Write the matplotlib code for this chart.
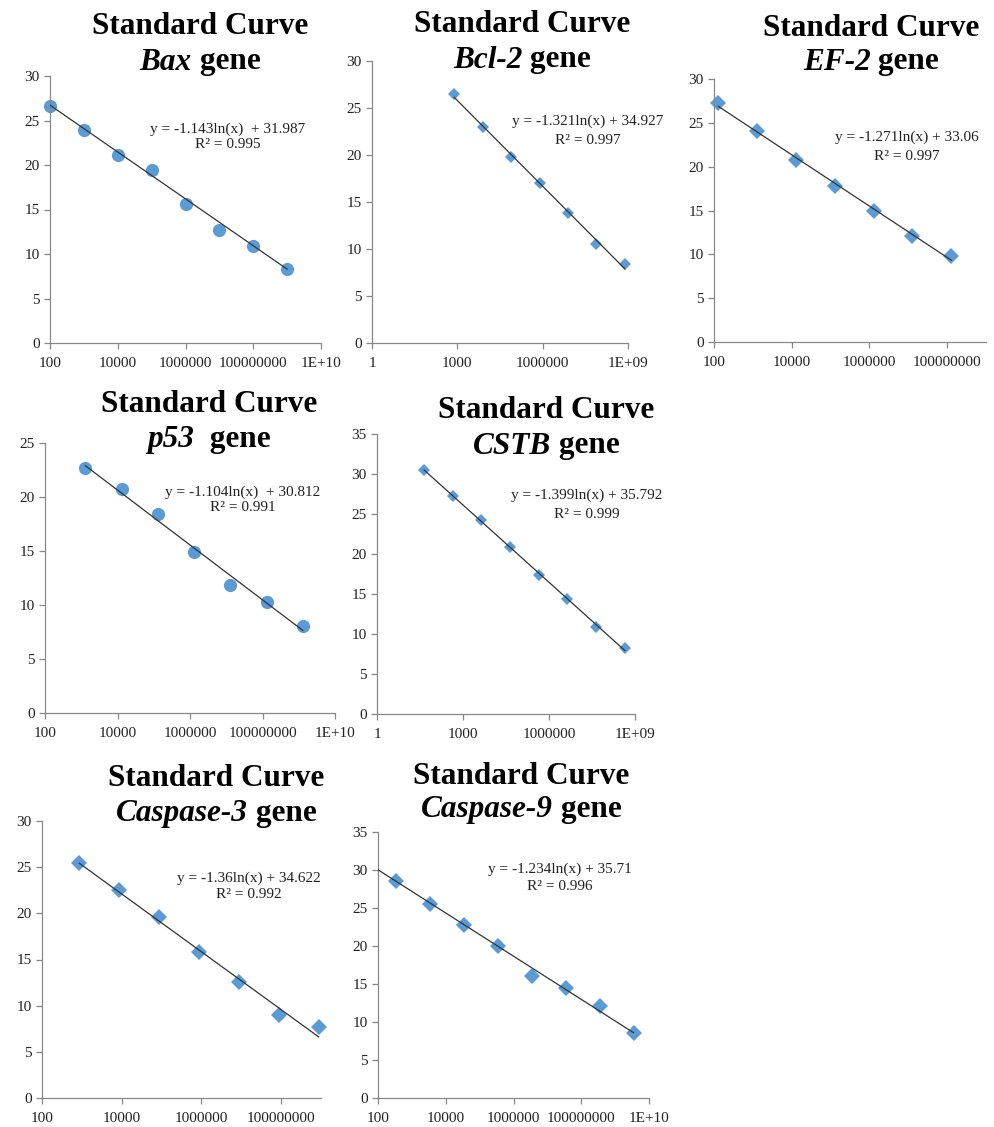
import numpy as np
import matplotlib
matplotlib.use("Agg")
import matplotlib.pyplot as plt

plt.rcParams['font.family'] = ['Liberation Serif', 'DejaVu Serif']

# ---------------- data ----------------
genes = ["Bax", "Bcl-2", "EF-2", "p53", "CSTB", "Caspase-3", "Caspase-9"]

bax_x = [1e2, 1e3, 1e4, 1e5, 1e6, 1e7, 1e8, 1e9]
bax_y = [26.6, 23.95, 21.15, 19.45, 15.65, 12.65, 10.95, 8.35]

bcl2_x = [7.8e2, 7.8e3, 7.8e4, 7.8e5, 7.8e6, 7.8e7, 7.8e8]
bcl2_y = [26.5, 22.95, 19.77, 17.05, 13.88, 10.5, 8.45]

ef2_x = [1.28e2, 1.28e3, 1.28e4, 1.28e5, 1.28e6, 1.28e7, 1.28e8]
ef2_y = [27.3, 24.05, 20.75, 17.8, 15.0, 12.05, 9.85]

p53_x = [1.3e3, 1.3e4, 1.3e5, 1.3e6, 1.3e7, 1.3e8, 1.3e9]
p53_y = [22.65, 20.7, 18.4, 14.95, 11.85, 10.3, 8.05]

cstb_x = [4.4e1, 4.4e2, 4.4e3, 4.4e4, 4.4e5, 4.4e6, 4.4e7, 4.4e8]
cstb_y = [30.5, 27.25, 24.25, 20.85, 17.4, 14.35, 10.9, 8.25]

casp3_x = [8.7e2, 8.7e3, 8.7e4, 8.7e5, 8.7e6, 8.7e7, 8.7e8]
casp3_y = [25.45, 22.5, 19.55, 15.8, 12.55, 8.95, 7.7]

casp9_x = [3.5e2, 3.5e3, 3.5e4, 3.5e5, 3.5e6, 3.5e7, 3.5e8, 3.5e9]
casp9_y = [28.6, 25.55, 22.8, 20.0, 16.1, 14.45, 12.15, 8.6]

slopes = [-1.143, -1.321, -1.271, -1.104, -1.399, -1.36, -1.234]
intercepts = [31.987, 34.927, 33.06, 30.812, 35.792, 34.622, 35.71]
r2 = [0.995, 0.997, 0.997, 0.991, 0.999, 0.992, 0.996]
eq_texts = ["y = -1.143ln(x)  + 31.987", "y = -1.321ln(x) + 34.927",
            "y = -1.271ln(x) + 33.06", "y = -1.104ln(x)  + 30.812",
            "y = -1.399ln(x) + 35.792", "y = -1.36ln(x) + 34.622",
            "y = -1.234ln(x) + 35.71"]
r2_texts = ["R² = 0.995", "R² = 0.997", "R² = 0.997", "R² = 0.991",
            "R² = 0.999", "R² = 0.992", "R² = 0.996"]
gene_suffix = [" gene", " gene", " gene", "  gene", " gene", " gene", " gene"]

trend_start = [None, None, None, None, None, None, 1e2]

ymax = [30, 30, 30, 25, 35, 30, 35]
xlims = [(1e2, 1e10), (1, 1e9), (1e2, 1e9), (1e2, 1e10), (1, 1e9), (1e2, 1e9), (1e2, 1e10)]
xticks = [[1e2, 1e4, 1e6, 1e8, 1e10], [1, 1e3, 1e6, 1e9], [1e2, 1e4, 1e6, 1e8],
          [1e2, 1e4, 1e6, 1e8, 1e10], [1, 1e3, 1e6, 1e9], [1e2, 1e4, 1e6, 1e8],
          [1e2, 1e4, 1e6, 1e8, 1e10]]
xticklabels = [["100", "10000", "1000000", "100000000", "1E+10"],
               ["1", "1000", "1000000", "1E+09"],
               ["100", "10000", "1000000", "100000000"],
               ["100", "10000", "1000000", "100000000", "1E+10"],
               ["1", "1000", "1000000", "1E+09"],
               ["100", "10000", "1000000", "100000000"],
               ["100", "10000", "1000000", "100000000", "1E+10"]]

xs = [bax_x, bcl2_x, ef2_x, p53_x, cstb_x, casp3_x, casp9_x]
ys = [bax_y, bcl2_y, ef2_y, p53_y, cstb_y, casp3_y, casp9_y]

# ---------------- layout (pixels) ----------------
W, H = 994, 1127
boxes = [(50, 76, 321, 343), (372, 61, 628, 343), (714, 79, 986, 342),
         (45, 443, 335, 713), (377, 434, 635, 714), (42, 821, 321, 1098),
         (378, 832, 649, 1098)]
title_pos = [(200, 26, 62), (522, 24, 60), (871, 28, 62), (209, 404, 440),
             (546, 410, 446), (216, 779, 813), (521, 776, 810)]
eq_pos = [(228, 129, 145), (588, 121, 140), (907, 137, 156), (243, 492, 508),
          (587, 495, 514), (249, 878, 894), (560, 869, 887)]
markers = ['o', 'D', 'D', 'o', 'D', 'D', 'D']
msizes = [9.5, 6.5, 8, 9.5, 6, 8, 8]

blue = '#5B9BD5'
spine_col = '#888888'
TFS = 22.5

fig = plt.figure(figsize=(W / 100, H / 100), dpi=100)
fig.patch.set_facecolor('white')
renderer = fig.canvas.get_renderer()

for i in range(7):
    l, t, r, b = boxes[i]
    ax = fig.add_axes([l / W, 1 - b / H, (r - l) / W, (b - t) / H])
    ax.set_xscale('log')
    ax.set_xlim(*xlims[i])
    ax.set_ylim(0, ymax[i])
    ax.set_yticks(np.arange(0, ymax[i] + 1, 5))
    ax.set_xticks(xticks[i])
    ax.set_xticklabels(xticklabels[i])
    ax.xaxis.set_minor_locator(matplotlib.ticker.NullLocator())
    for s in ['top', 'right']:
        ax.spines[s].set_visible(False)
    for s in ['left', 'bottom']:
        ax.spines[s].set_color(spine_col)
        ax.spines[s].set_linewidth(0.9)
    ax.tick_params(axis='both', direction='out', length=4, width=0.9,
                   color=spine_col, labelsize=11, labelcolor='#222222')
    ax.tick_params(axis='x', pad=6)
    ax.patch.set_alpha(0)

    x = np.array(xs[i])
    y = np.array(ys[i])
    x0 = trend_start[i] if trend_start[i] is not None else x.min()
    tx = np.array([x0, x.max()])
    ty = slopes[i] * np.log(tx) + intercepts[i]
    ax.plot(tx, ty, color='#333333', lw=0.9, zorder=3)
    ax.plot(x, y, linestyle='none', marker=markers[i], ms=msizes[i],
            color=blue, markeredgewidth=0, zorder=2, clip_on=False)

    # equation text
    ex, ey1, ey2 = eq_pos[i]
    fig.text(ex / W, 1 - ey1 / H, eq_texts[i], ha='center', va='center',
             fontsize=11, color='#222222')
    fig.text(ex / W, 1 - ey2 / H, r2_texts[i], ha='center', va='center',
             fontsize=11, color='#222222')

    # title
    cx, ty1, ty2 = title_pos[i]
    fig.text(cx / W, 1 - ty1 / H, "Standard Curve", ha='center', va='center',
             fontsize=TFS, fontweight='bold', color='black')
    t_it = fig.text(0, 1 - ty2 / H, genes[i], ha='left', va='center',
                    fontsize=TFS, fontweight='bold', fontstyle='italic', color='black')
    t_rm = fig.text(0, 1 - ty2 / H, gene_suffix[i], ha='left', va='center',
                    fontsize=TFS, fontweight='bold', color='black')
    w_it = t_it.get_window_extent(renderer).width
    w_rm = t_rm.get_window_extent(renderer).width
    start = cx - (w_it + w_rm) / 2
    t_it.set_x(start / W)
    t_rm.set_x((start + w_it) / W)

fig.savefig('out.png', dpi=100, facecolor='white')
